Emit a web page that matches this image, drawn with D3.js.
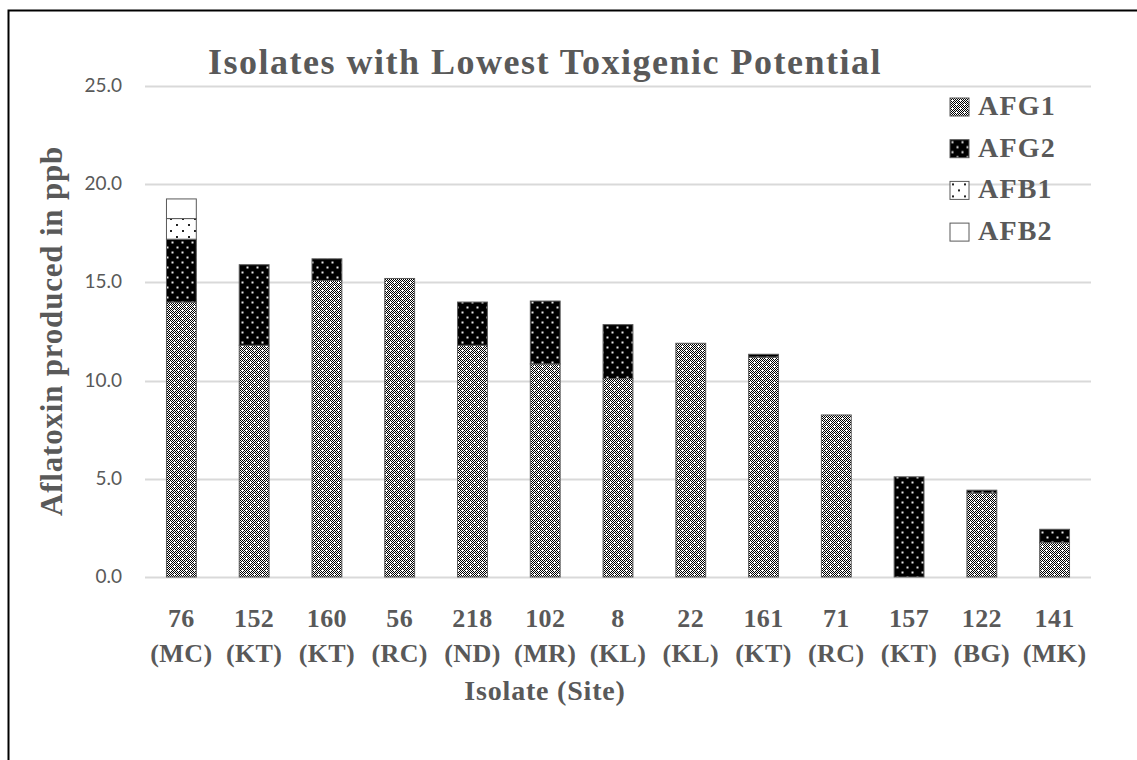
<!DOCTYPE html>
<html>
<head>
<meta charset="utf-8">
<script src="https://cdn.jsdelivr.net/npm/d3@7"></script>
<style>
  html, body { margin: 0; padding: 0; background: #fff; }
  svg { display: block; }
  .serif { font-family: "Liberation Serif", "DejaVu Serif", serif; font-weight: bold; fill: #595959; }
  .tick-y { font-family: Lato, "Open Sans", sans-serif; fill: #595959; }
</style>
</head>
<body>
<svg id="chart" width="1137" height="760"></svg>
<script>
// Isolates and their sampling sites
const isolates = ["76", "152", "160", "56", "218", "102", "8", "22", "161", "71", "157", "122", "141"];
const sites = ["(MC)", "(KT)", "(KT)", "(RC)", "(ND)", "(MR)", "(KL)", "(KL)", "(KT)", "(RC)", "(KT)", "(BG)", "(MK)"];

// Aflatoxin produced (ppb) per toxin
const afg1 = [14.0, 11.8, 15.1, 15.2, 11.8, 10.85, 10.1, 11.9, 11.2, 8.25, 0.0, 4.28, 1.75];
const afg2 = [3.2, 4.1, 1.1, 0.0, 2.2, 3.2, 2.75, 0.0, 0.14, 0.0, 5.1, 0.14, 0.68];
const afb1 = [1.05, 0, 0, 0, 0, 0, 0, 0, 0, 0, 0, 0, 0];
const afb2 = [1.0, 0, 0, 0, 0, 0, 0, 0, 0, 0, 0, 0, 0];

const seriesNames = ["AFG1", "AFG2", "AFB1", "AFB2"];
const yTicks = [0, 5, 10, 15, 20, 25];

const svg = d3.select("#chart");
const plot = { left: 145, right: 1091, top: 86, bottom: 577 };

// ---- fill patterns ----
const defs = svg.append("defs");

// AFG1: fine checkerboard with white crosses
const p1 = defs.append("pattern").attr("id", "pat-afg1")
  .attr("patternUnits", "userSpaceOnUse").attr("width", 8).attr("height", 8);
p1.append("rect").attr("width", 8).attr("height", 8).attr("fill", "#fff");
for (let yy = 0; yy < 8; yy++) {
  for (let xx = 0; xx < 8; xx++) {
    if ((xx + yy) % 2 === 0) p1.append("rect").attr("x", xx).attr("y", yy).attr("width", 1).attr("height", 1).attr("fill", "#000");
  }
}
[[2, 2], [6, 6]].forEach(([cx, cy]) => {
  p1.append("rect").attr("x", cx - 1).attr("y", cy).attr("width", 3).attr("height", 1).attr("fill", "#fff");
  p1.append("rect").attr("x", cx).attr("y", cy - 1).attr("width", 1).attr("height", 3).attr("fill", "#fff");
});

// AFG2: black with white dots
const p2 = defs.append("pattern").attr("id", "pat-afg2")
  .attr("patternUnits", "userSpaceOnUse").attr("width", 10).attr("height", 10);
p2.append("rect").attr("width", 10).attr("height", 10).attr("fill", "#000");
[[2.5, 2.5], [7.5, 7.5]].forEach(([cx, cy]) =>
  p2.append("rect").attr("x", cx - 1).attr("y", cy - 1).attr("width", 2).attr("height", 2).attr("fill", "#e8e8e8"));

// AFB1: white with black dots
const p3 = defs.append("pattern").attr("id", "pat-afb1")
  .attr("patternUnits", "userSpaceOnUse").attr("width", 12).attr("height", 12);
p3.append("rect").attr("width", 12).attr("height", 12).attr("fill", "#fff");
[[3, 3], [9, 9]].forEach(([cx, cy]) =>
  p3.append("rect").attr("x", cx - 1).attr("y", cy - 1).attr("width", 2).attr("height", 2).attr("fill", "#222"));

const fills = ["url(#pat-afg1)", "url(#pat-afg2)", "url(#pat-afb1)", "#fff"];

// ---- frame ----
svg.append("rect").attr("x", 8.5).attr("y", 10.5).attr("width", 1140).attr("height", 760)
  .attr("fill", "none").attr("stroke", "#000").attr("stroke-width", 2);

// ---- scales ----
const x = d3.scaleBand().domain(isolates.map((d, i) => i))
  .range([plot.left, plot.right]).paddingInner(0.59).paddingOuter(0.295);
const y = d3.scaleLinear().domain([0, 25]).range([plot.bottom, plot.top]);

// gridlines
svg.append("g").selectAll("line").data(yTicks).join("line")
  .attr("x1", plot.left).attr("x2", plot.right)
  .attr("y1", d => Math.round(y(d)) + 0.5).attr("y2", d => Math.round(y(d)) + 0.5)
  .attr("stroke", "#d9d9d9").attr("stroke-width", 2);

// y tick labels
svg.append("g").selectAll("text").data(yTicks).join("text")
  .attr("class", "tick-y")
  .attr("x", 122).attr("y", d => y(d) + 6)
  .attr("text-anchor", "end").attr("font-size", 19)
  .text(d => d.toFixed(1));

// ---- stacked bars ----
const rows = isolates.map((d, i) => ({ i, AFG1: afg1[i], AFG2: afg2[i], AFB1: afb1[i], AFB2: afb2[i] }));
const stacked = d3.stack().keys(seriesNames)(rows);

svg.append("g").selectAll("g").data(stacked).join("g")
  .attr("fill", (d, k) => fills[k])
  .selectAll("rect").data(d => d.filter(s => s[1] - s[0] > 0)).join("rect")
  .attr("x", d => x(d.data.i))
  .attr("width", x.bandwidth())
  .attr("y", d => y(d[1]))
  .attr("height", d => y(d[0]) - y(d[1]))
  .attr("stroke", "#595959").attr("stroke-width", 1);

// ---- x tick labels (two lines) ----
const xl = svg.append("g").selectAll("text").data(isolates).join("text")
  .attr("class", "serif").attr("font-size", 26).attr("letter-spacing", 0.4)
  .attr("text-anchor", "middle")
  .attr("x", (d, i) => x(i) + x.bandwidth() / 2);
xl.append("tspan").attr("y", 627).text(d => d);
xl.append("tspan").attr("x", (d, i) => x(i) + x.bandwidth() / 2).attr("y", 662).text((d, i) => sites[i]);

// ---- titles ----
svg.append("text").attr("class", "serif").attr("font-size", 36).attr("letter-spacing", 1.5)
  .attr("x", 545).attr("y", 74).attr("text-anchor", "middle")
  .text("Isolates with Lowest Toxigenic Potential");

svg.append("text").attr("class", "serif").attr("font-size", 28).attr("letter-spacing", 0.8)
  .attr("x", 545).attr("y", 700).attr("text-anchor", "middle")
  .text("Isolate (Site)");

svg.append("text").attr("class", "serif").attr("font-size", 31).attr("letter-spacing", 0.8)
  .attr("transform", "translate(62,331) rotate(-90)").attr("text-anchor", "middle")
  .text("Aflatoxin produced in ppb");

// ---- legend ----
const lg = svg.append("g").selectAll("g").data(seriesNames).join("g")
  .attr("transform", (d, k) => `translate(950,${98 + k * 41.7})`);
lg.append("rect").attr("width", 19).attr("height", 18)
  .attr("fill", (d, k) => fills[k]).attr("stroke", "#595959").attr("stroke-width", 1);
lg.append("text").attr("class", "serif").attr("font-size", 28).attr("letter-spacing", 1.2)
  .attr("x", 28).attr("y", 17).text(d => d);
</script>
</body>
</html>
